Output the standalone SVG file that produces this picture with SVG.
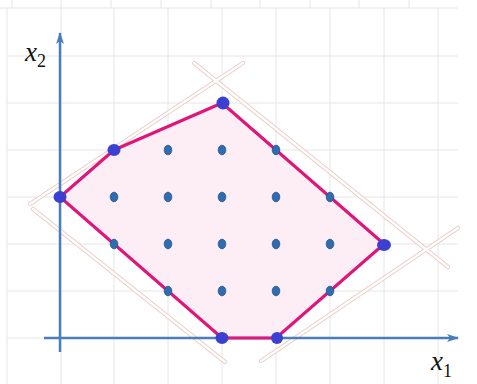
<svg xmlns="http://www.w3.org/2000/svg" width="477" height="384" viewBox="0 0 477 384">
<defs>
<style>
.grid{stroke:#e6e6e6;stroke-width:1;fill:none}
.guideO{stroke:#ebcbc4;stroke-width:4.2;stroke-linecap:round;fill:none}
.guideI{stroke:#ffffff;stroke-width:2.4;stroke-linecap:round;fill:none}
.axis{stroke:#4a7ebb;stroke-width:2.5;fill:none}
.poly{fill:#fdedf5;stroke:none}
.edge{fill:none;stroke:#e0157a;stroke-width:3;stroke-linejoin:round}
.vtx{fill:#3b40d2}
.pt{fill:#2f6db0;stroke:#24508a;stroke-width:0.8}
.lbl{font-family:"Liberation Serif",serif;font-style:italic;font-size:27px;fill:#111}
.sub{font-family:"Liberation Serif",serif;font-size:18px;fill:#111}
</style>
<marker id="arr" viewBox="0 0 12 8" refX="11" refY="4" markerWidth="12" markerHeight="8" markerUnits="userSpaceOnUse" orient="auto">
<path d="M0,0 L12,4 L0,8 L3,4 Z" fill="#4a7ebb"/>
</marker>
</defs>
<rect width="477" height="384" fill="#ffffff"/>
<g id="grid">
<path class="grid" d="M12,0V8M61,0V8M111,0V8M161,0V8M211,0V8M260,0V8M310,0V8M359,0V8M409,0V8"/>
<path class="grid" d="M0,8H458"/>
<path class="grid" d="M7,8V384M61,8V384M114,8V384M168,8V384M222,8V384M276,8V384M330,8V384M384,8V384M438,8V384"/>
<path class="grid" d="M7,56H458M7,103H458M7,150H458M7,197H458M7,244H458M7,291H458M7,338H458"/>
</g>
<g id="region">
<polygon class="poly" points="60,197 114,150 222,103 384,244 276,338 222,338"/>
</g>
<g id="guides">
<path class="guideO" d="M30,204L243,63M194,63L448,267M33,209L225,362M261,361L458,228"/>
<path class="guideI" d="M30,204L243,63M194,63L448,267M33,209L225,362M261,361L458,228"/>
</g>
<g id="connectors">
<line class="axis" x1="60" y1="352" x2="60" y2="33" marker-end="url(#arr)"/>
<line class="axis" x1="44" y1="338" x2="458" y2="338" marker-end="url(#arr)"/>
<polygon class="edge" points="60,197 114,150 222,103 384,244 276,338 222,338"/>
</g>
<g id="points">
<ellipse class="pt" cx="168" cy="150" rx="3.8" ry="4.8"/>
<ellipse class="pt" cx="222" cy="150" rx="3.8" ry="4.8"/>
<ellipse class="pt" cx="276" cy="150" rx="3.8" ry="4.8"/>
<ellipse class="pt" cx="114" cy="197" rx="3.8" ry="4.8"/>
<ellipse class="pt" cx="168" cy="197" rx="3.8" ry="4.8"/>
<ellipse class="pt" cx="222" cy="197" rx="3.8" ry="4.8"/>
<ellipse class="pt" cx="276" cy="197" rx="3.8" ry="4.8"/>
<ellipse class="pt" cx="330" cy="197" rx="3.8" ry="4.8"/>
<ellipse class="pt" cx="114" cy="244" rx="3.8" ry="4.8"/>
<ellipse class="pt" cx="168" cy="244" rx="3.8" ry="4.8"/>
<ellipse class="pt" cx="222" cy="244" rx="3.8" ry="4.8"/>
<ellipse class="pt" cx="276" cy="244" rx="3.8" ry="4.8"/>
<ellipse class="pt" cx="330" cy="244" rx="3.8" ry="4.8"/>
<ellipse class="pt" cx="168" cy="291" rx="3.8" ry="4.8"/>
<ellipse class="pt" cx="222" cy="291" rx="3.8" ry="4.8"/>
<ellipse class="pt" cx="276" cy="291" rx="3.8" ry="4.8"/>
<ellipse class="pt" cx="330" cy="291" rx="3.8" ry="4.8"/>
</g>
<g id="vertices">
<ellipse class="vtx" cx="60" cy="197" rx="6.5" ry="6"/>
<ellipse class="vtx" cx="114" cy="150" rx="6.5" ry="6"/>
<ellipse class="vtx" cx="223" cy="103" rx="6.5" ry="6.5"/>
<ellipse class="vtx" cx="384" cy="245" rx="7" ry="6"/>
<ellipse class="vtx" cx="277" cy="338" rx="6" ry="6"/>
<ellipse class="vtx" cx="222" cy="338" rx="6.5" ry="6"/>
</g>
<g id="labels">
<text class="lbl" x="25" y="61">x</text>
<text class="sub" x="37" y="67">2</text>
<text class="lbl" x="431" y="370">x</text>
<text class="sub" x="443" y="377">1</text>
</g>
</svg>
